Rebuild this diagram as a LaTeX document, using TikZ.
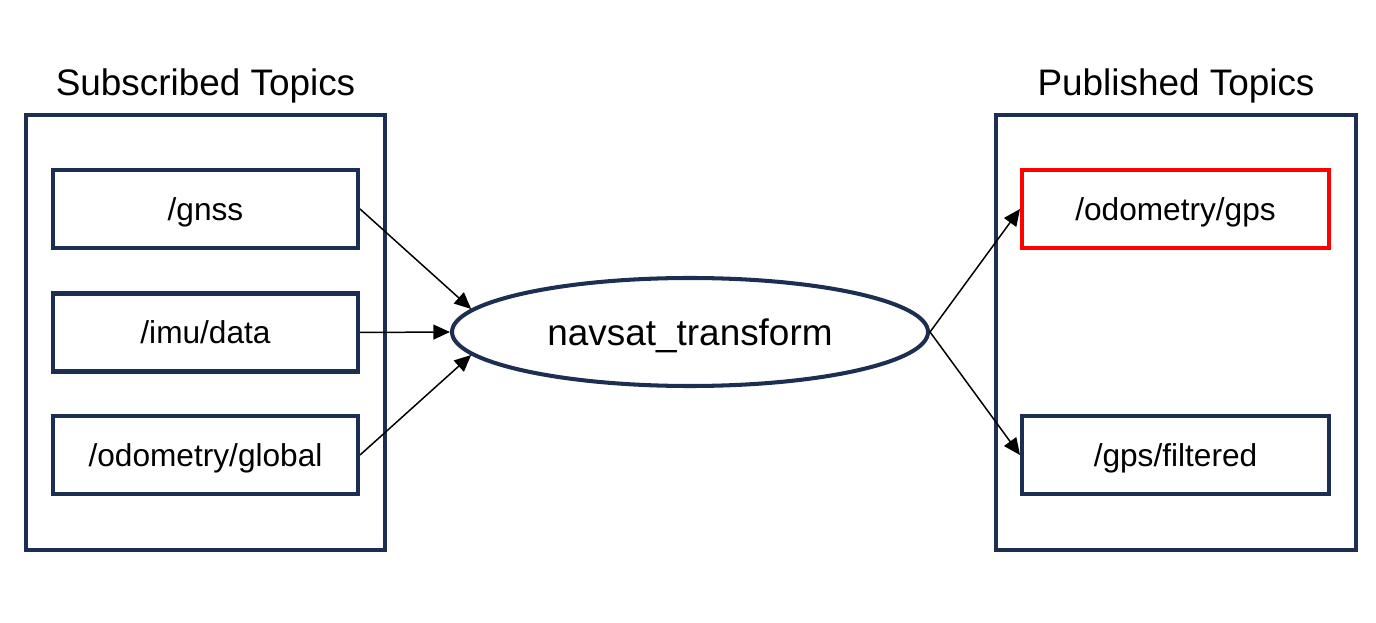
\documentclass[tikz,border=0pt]{standalone}
\usepackage{fontspec}
\setmainfont{Liberation Sans}
\usetikzlibrary{arrows.meta,shapes.geometric}
\begin{document}
\begin{tikzpicture}[
		topicbox/.style={draw=MauVien,line width=2.3pt,minimum width=6.1cm,minimum height=1.56cm,inner sep=0pt,text depth=0pt,font=\fontsize{18}{21}\selectfont},
		groupbox/.style={draw=MauVien,line width=2.3pt,minimum width=7.18cm,minimum height=8.7cm,inner sep=0pt},
		title/.style={font=\fontsize{21}{25}\selectfont},
		link/.style={line width=0.85pt,-{Triangle[length=9.5pt,width=8.5pt]}}
	]
		\definecolor{MauVien}{RGB}{28,46,82}
		\definecolor{MauDo}{RGB}{255,0,0}
		\useasboundingbox (0,0) rectangle (27.52,12.44);
		\node[title] (subtitle) at (4.11,10.72)
			{Subscribed Topics};
		\node[title] (pubtitle) at (23.52,10.72)
			{Published Topics};
		\node[groupbox] (subbox) at (4.11,5.79) {};
		\node[groupbox,minimum width=7.2cm] (pubbox) at (23.52,5.79) {};
		\node[topicbox] (gnss) at (4.11,8.26)
			{/gnss};
		\node[topicbox] (imu) at (4.11,5.79)
			{/imu/data};
		\node[topicbox] (odomglobal) at (4.11,3.34)
			{/odometry/global};
		\node[topicbox,draw=MauDo,minimum width=6.14cm] (odomgps) at (23.51,8.26)
			{/odometry/gps};
		\node[topicbox,minimum width=6.14cm] (gpsfilt) at (23.51,3.34)
			{/gps/filtered};
		\node[ellipse,draw=MauVien,line width=2.3pt,minimum width=9.52cm,
			minimum height=2.16cm,inner sep=0pt,text depth=0pt,title] (navsat) at (13.80,5.80)
			{navsat\_transform};
		\draw[link] (gnss.east) -- (navsat.174);
		\draw[link] (imu.east) -- (navsat.west);
		\draw[link] (odomglobal.east) -- (navsat.186);
		\draw[link] (navsat.east) -- (odomgps.west);
		\draw[link] (navsat.east) -- (gpsfilt.west);
	\end{tikzpicture}
\end{document}
